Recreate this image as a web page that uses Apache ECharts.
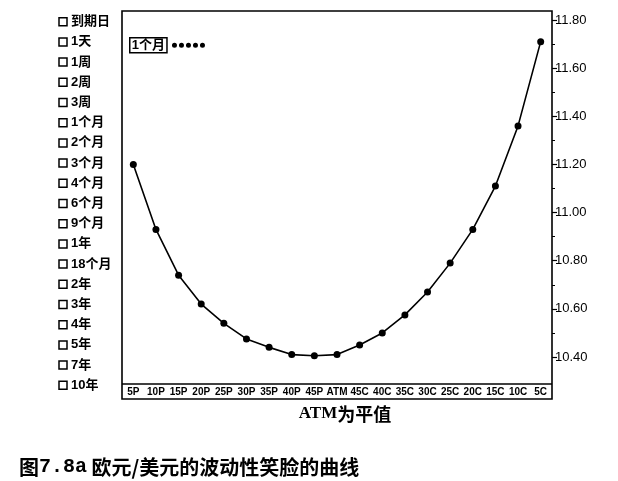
<!DOCTYPE html>
<html>
<head>
<meta charset="utf-8">
<script src="https://cdn.jsdelivr.net/npm/echarts@6/dist/echarts.min.js"></script>
<style>
	html, body { margin: 0; padding: 0; background: #fff; }
	#main { width: 618px; height: 481px; }
</style>
</head>
<body>
<div id="main"></div>
<script>
// 期限列表(左侧复选框)
var termLabels = ['到期日', '1天', '1周', '2周', '3周', '1个月', '2个月', '3个月', '4个月', '6个月',
	'9个月', '1年', '18个月', '2年', '3年', '4年', '5年', '7年', '10年'];
// Delta 分类
var deltaLabels = ['5P', '10P', '15P', '20P', '25P', '30P', '35P', '40P', '45P', 'ATM',
	'45C', '40C', '35C', '30C', '25C', '20C', '15C', '10C', '5C'];
// 1个月 波动率
var volOneMonth = [11.20, 10.93, 10.74, 10.62, 10.54, 10.475, 10.44, 10.41, 10.405, 10.41,
	10.45, 10.50, 10.575, 10.67, 10.79, 10.93, 11.11, 11.36, 11.71];
var seriesName = '1个月';

var sansFont = '"Liberation Sans", "Noto Sans CJK SC", sans-serif';
var cjkFont = '"Noto Sans CJK SC", "Liberation Sans", sans-serif';

// 五个圆点的图例图标
var dotsIcon = 'path://';
for (var d = 0; d < 5; d++) {
	var cx = 2.5 + d * 7;
	dotsIcon += 'M' + (cx - 2.5) + ',2.5A2.5,2.5,0,1,0,' + (cx + 2.5) + ',2.5A2.5,2.5,0,1,0,' + (cx - 2.5) + ',2.5Z';
}

// 左侧复选框列表
var boxList = [];
termLabels.forEach(function(name, i) {
	var cy = 21.7 + 20.2 * i;
	boxList.push({
		type: 'rect',
		shape: { x: 59, y: cy - 4, width: 8, height: 8 },
		style: { fill: '#fff', stroke: '#000', lineWidth: 1.5 }
	});
	boxList.push({
		type: 'text',
		x: 71,
		y: cy,
		style: {
			text: name,
			fill: '#000',
			fontSize: 13,
			fontWeight: 'bold',
			fontFamily: sansFont,
			verticalAlign: 'middle'
		}
	});
});

var myChart = echarts.init(document.getElementById('main'));
var option = {
	animation: false,
	backgroundColor: '#fff',
	title: {
		text: '{a|图}{b|7.8a}{a| 欧元/美元的波动性笑脸的曲线}',
		left: 14,
		top: 452,
		textStyle: {
			rich: {
				a: { fontSize: 20, fontWeight: 'bold', fontFamily: cjkFont, color: '#000' },
				b: { fontSize: 20, fontWeight: 'bold', fontFamily: '"Liberation Mono", "DejaVu Sans Mono", monospace', color: '#000' }
			}
		}
	},
	legend: {
		left: 124,
		top: 32,
		align: 'right',
		selectedMode: false,
		itemWidth: 33,
		itemHeight: 5,
		data: [{ name: seriesName, icon: dotsIcon, itemStyle: { color: '#000' } }],
		textStyle: {
			fontSize: 13,
			fontWeight: 'bold',
			fontFamily: sansFont,
			color: '#000',
			borderColor: '#000',
			borderWidth: 1.5,
			padding: [2, 2, 0, 2]
		}
	},
	grid: {
		left: 122,
		right: 66,
		top: 20,
		bottom: 124
	},
	xAxis: {
		type: 'category',
		data: deltaLabels,
		offset: 27,
		axisLine: { show: false },
		axisTick: { show: false },
		axisLabel: {
			interval: 0,
			margin: 3,
			fontSize: 10,
			fontWeight: 'bold',
			fontFamily: sansFont,
			color: '#000'
		},
		name: '{a|ATM}{b|为平值}',
		nameLocation: 'middle',
		nameGap: 21,
		nameTextStyle: {
			padding: [0, 0, 0, 16],
			rich: {
				a: { fontSize: 17, fontWeight: 'bold', fontFamily: '"Liberation Serif", serif', color: '#000' },
				b: { fontSize: 18, fontWeight: 'bold', fontFamily: cjkFont, color: '#000' }
			}
		}
	},
	yAxis: {
		type: 'value',
		position: 'right',
		min: 10.4,
		max: 11.8,
		interval: 0.2,
		axisLine: { show: false },
		axisTick: { show: true, length: 5, lineStyle: { color: '#000', width: 1.2 } },
		minorTick: { show: true, splitNumber: 2, length: 3, lineStyle: { color: '#000', width: 1 } },
		splitLine: { show: false },
		axisLabel: {
			margin: 3,
			fontSize: 13,
			fontFamily: sansFont,
			color: '#000',
			formatter: function(v) { return v.toFixed(2); }
		}
	},
	graphic: [
		{
			type: 'rect',
			shape: { x: 122, y: 11, width: 430, height: 388 },
			style: { fill: 'none', stroke: '#000', lineWidth: 1.6 }
		},
		{
			type: 'line',
			shape: { x1: 122, y1: 384, x2: 552, y2: 384 },
			style: { stroke: '#000', lineWidth: 1.6 }
		},
		{
			type: 'group',
			children: boxList
		}
	],
	series: [
		{
			name: seriesName,
			type: 'line',
			data: volOneMonth,
			color: '#000',
			symbol: 'circle',
			symbolSize: 7,
			lineStyle: { color: '#000', width: 1.6 },
			itemStyle: { color: '#000' }
		}
	]
};
option && myChart.setOption(option);
</script>
</body>
</html>
